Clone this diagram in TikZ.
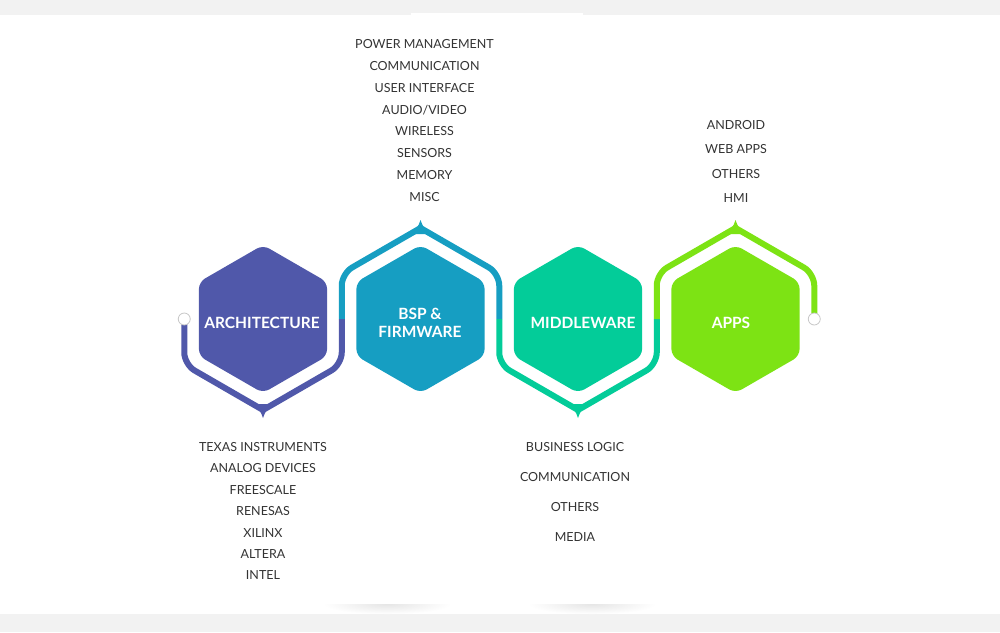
\documentclass[tikz,border=0pt]{standalone}
\usepackage{fontspec}
\setmainfont{Lato}
\definecolor{bgg}{HTML}{F2F2F2}
\definecolor{carch}{HTML}{5058AA}
\definecolor{cbsp}{HTML}{169EC2}
\definecolor{cmid}{HTML}{03CC99}
\definecolor{capps}{HTML}{7DE314}
\definecolor{ctext}{HTML}{333333}
\newcommand\hexa[2]{\fill[#2, rounded corners=7] (#1,245) -- (#1+64.1,282) -- (#1+64.1,356) -- (#1,393) -- (#1-64.1,356) -- (#1-64.1,282) -- cycle;}
\newcommand\spikedown[2]{\fill[#2] (#1-10,404) .. controls (#1-3,410) .. (#1,418) .. controls (#1+3,410) .. (#1+10,404) -- cycle;}
\newcommand\spikeup[2]{\fill[#2] (#1-10,234) .. controls (#1-3,228) .. (#1,220) .. controls (#1+3,228) .. (#1+10,234) -- cycle;}
\tikzset{
  lab/.style={text=white, font=\fontsize{15.5}{18.5}\selectfont\bfseries, inner sep=0, align=center},
  item/.style={text=ctext, font=\fontsize{12.5}{15}\selectfont, inner sep=0, anchor=base},
  outline/.style={line width=6pt},
  endcirc/.style={circle, fill=white, draw=black!22, line width=0.8pt, minimum size=12pt, inner sep=0}
}
\begin{document}
\begin{tikzpicture}[x=1pt,y=-1pt]
\useasboundingbox (0,0) rectangle (1000,632);
\fill[bgg] (0,0) rectangle (1000,632);
\fill[white] (0,15) rectangle (1000,614);
\fill[white] (411,13) rectangle (583,15);
% faint bottom shadows
\begin{scope}
\clip (300,604) rectangle (700,614);
\shade[inner color=black!10, outer color=white] (387,604) ellipse [x radius=64, y radius=10];
\shade[inner color=black!10, outer color=white] (592,604) ellipse [x radius=64, y radius=10];
\end{scope}
% hexagons
\hexa{263}{carch}
\hexa{420.5}{cbsp}
\hexa{578}{cmid}
\hexa{735.5}{capps}
% outlines
\draw[outline, carch] (184.25,319) [rounded corners=12] -- (184.25,364.5) [sharp corners] -- (263,410) [rounded corners=12] -- (341.75,364.5) -- (341.75,319);
\draw[outline, cbsp] (341.75,319) [rounded corners=12] -- (341.75,273.5) [sharp corners] -- (420.5,228) [rounded corners=12] -- (499.25,273.5) -- (499.25,319);
\draw[outline, cmid] (499.25,319) [rounded corners=12] -- (499.25,364.5) [sharp corners] -- (578,410) [rounded corners=12] -- (656.75,364.5) -- (656.75,319);
\draw[outline, capps] (656.75,319) [rounded corners=12] -- (656.75,273.5) [sharp corners] -- (735.5,228) [rounded corners=12] -- (814.25,273.5) -- (814.25,319);
\spikedown{263}{carch}
\spikeup{420.5}{cbsp}
\spikedown{578}{cmid}
\spikeup{735.5}{capps}
\node[endcirc] (startc) at (184.25,319) {};
\node[endcirc] (endc) at (814.25,319) {};
% labels
\node[lab] (archL) at (262,323) {ARCHITECTURE};
\node[lab] (bspL) at (420,323) {BSP \&\\FIRMWARE};
\node[lab] (midL) at (583,323) {MIDDLEWARE};
\node[lab] (appsL) at (731,323) {APPS};
% lists
\foreach \t [count=\i] in {POWER MANAGEMENT, COMMUNICATION, USER INTERFACE, AUDIO/VIDEO, WIRELESS, SENSORS, MEMORY, MISC}
  \node[item] (bsp\i) at (424.5, {48.5+21.86*(\i-1)}) {\t};
\foreach \t [count=\i] in {ANDROID, WEB APPS, OTHERS, HMI}
  \node[item] (apps\i) at (736, {129.5+24.4*(\i-1)}) {\t};
\foreach \t [count=\i] in {TEXAS INSTRUMENTS, ANALOG DEVICES, FREESCALE, RENESAS, XILINX, ALTERA, INTEL}
  \node[item] (arch\i) at (263, {451.5+21.4*(\i-1)}) {\t};
\foreach \t [count=\i] in {BUSINESS LOGIC, COMMUNICATION, OTHERS, MEDIA}
  \node[item] (mid\i) at (575, {451.5+30*(\i-1)}) {\t};
\end{tikzpicture}
\end{document}
